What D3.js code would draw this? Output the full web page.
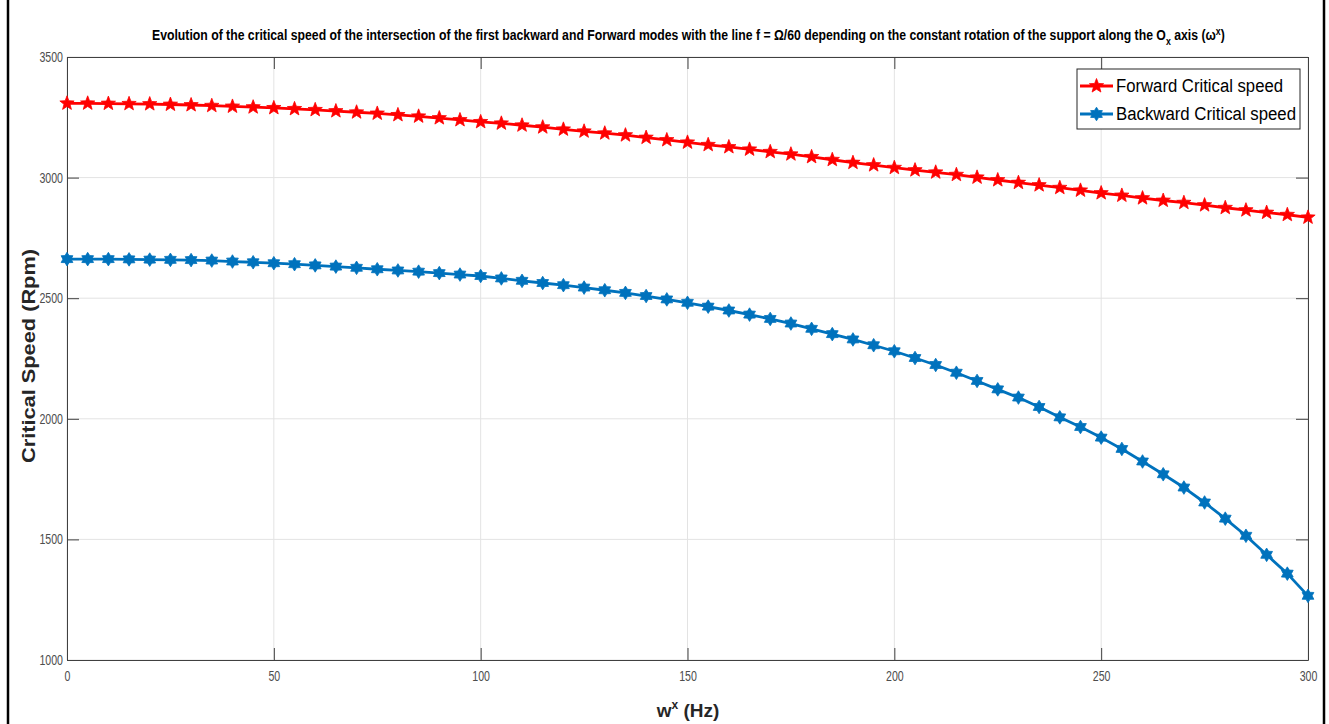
<!DOCTYPE html>
<html><head><meta charset="utf-8">
<script src="https://cdn.jsdelivr.net/npm/d3@7"></script>
<style>body{margin:0;background:#fff;} svg{display:block;}</style>
</head><body>
<svg id="c" width="1329" height="724"></svg>
<script>
const rotation = [0,5,10,15,20,25,30,35,40,45,50,55,60,65,70,75,80,85,90,95,100,105,110,115,120,125,130,135,140,145,150,155,160,165,170,175,180,185,190,195,200,205,210,215,220,225,230,235,240,245,250,255,260,265,270,275,280,285,290,295,300];
const forwardSpeed = [3308,3308,3307,3306,3305,3303,3301,3298,3295,3292,3289,3285,3281,3276,3271,3266,3260,3254,3247,3239,3231,3225,3217,3209,3200,3192,3184,3176,3166,3156,3146,3136,3127,3117,3107,3097,3086,3074,3062,3052,3041,3031,3022,3012,3001,2990,2979,2969,2958,2947,2936,2926,2915,2905,2896,2886,2875,2865,2855,2846,2835];
const backwardSpeed = [2662,2662,2662,2661,2660,2659,2658,2656,2652,2649,2645,2641,2636,2631,2626,2620,2615,2610,2604,2598,2592,2582,2572,2563,2554,2544,2533,2522,2509,2495,2481,2465,2449,2432,2414,2395,2373,2351,2329,2305,2280,2252,2223,2191,2157,2122,2088,2049,2006,1966,1922,1875,1823,1770,1715,1653,1586,1515,1436,1358,1266];
const xTicks = [0,50,100,150,200,250,300];
const yTicks = [1000,1500,2000,2500,3000,3500];
const seriesNames = ["Forward Critical speed","Backward Critical speed"];
const seriesColors = ["#ff0000","#0072bd"];

const svg = d3.select("#c");
const narrow = "'Liberation Sans Narrow','Arial Narrow','Liberation Sans',Arial,sans-serif";
const x = d3.scaleLinear().domain([0,300]).range([67,1308]);
const y = d3.scaleLinear().domain([1000,3500]).range([660,57]);

// outer frame
svg.append("line").attr("x1",8).attr("x2",8).attr("y1",0).attr("y2",724).attr("stroke","#000").attr("stroke-width",2.5);
svg.append("line").attr("x1",1324).attr("x2",1324).attr("y1",0).attr("y2",724).attr("stroke","#000").attr("stroke-width",2.5);

// grid
const g = svg.append("g");
g.selectAll(".gx").data(xTicks).join("line").attr("x1",d=>x(d)).attr("x2",d=>x(d)).attr("y1",57).attr("y2",660).attr("stroke","#e3e3e3").attr("stroke-width",1);
g.selectAll(".gy").data(yTicks).join("line").attr("y1",d=>y(d)).attr("y2",d=>y(d)).attr("x1",67).attr("x2",1308).attr("stroke","#e3e3e3").attr("stroke-width",1);

// axes
const axC = "#404040";
const fmt = d3.format("d");
const xa = svg.append("g").attr("transform","translate(0,660)").call(d3.axisBottom(x).tickValues(xTicks).tickFormat(fmt).tickSizeInner(-12).tickSizeOuter(0).tickPadding(11));
const xt = svg.append("g").attr("transform","translate(0,57)").call(d3.axisTop(x).tickValues(xTicks).tickSizeInner(-12).tickSizeOuter(0).tickFormat(""));
const ya = svg.append("g").attr("transform","translate(67,0)").call(d3.axisLeft(y).tickValues(yTicks).tickFormat(fmt).tickSizeInner(-12).tickSizeOuter(0).tickPadding(4));
const yr = svg.append("g").attr("transform","translate(1308,0)").call(d3.axisRight(y).tickValues(yTicks).tickSizeInner(-12).tickSizeOuter(0).tickFormat(""));
[xa,xt,ya,yr].forEach(a=>{
  a.selectAll("path,line").attr("stroke",axC).attr("stroke-width",1);
  a.selectAll("text").attr("fill","#4d4d4d").style("font-family",narrow).style("font-size","14px")
    .attr("textLength",function(){return this.textContent.length*5.9;}).attr("lengthAdjust","spacingAndGlyphs");
});

// series
function starPath(n, R, ratio){
  const r = R*ratio; const pts=[];
  for(let i=0;i<2*n;i++){
    const a = -Math.PI/2 + i*Math.PI/n;
    const rr = i%2===0?R:r;
    pts.push([rr*Math.cos(a), rr*Math.sin(a)]);
  }
  return "M"+pts.map(p=>p[0].toFixed(2)+","+p[1].toFixed(2)).join("L")+"Z";
}
const pent = starPath(5,7.5,0.42);
const hexa = starPath(6,6.8,0.6);
const line = d3.line().x((d,i)=>x(rotation[i])).y(d=>y(d));
const series = [
  {vals: forwardSpeed, color: seriesColors[0], mark: pent},
  {vals: backwardSpeed, color: seriesColors[1], mark: hexa}
];
series.forEach(s=>{
  svg.append("path").datum(s.vals).attr("d",line).attr("fill","none").attr("stroke",s.color).attr("stroke-width",2.8).attr("stroke-linejoin","round");
  svg.append("g").selectAll("path").data(s.vals).join("path")
    .attr("d",s.mark).attr("transform",(d,i)=>`translate(${x(rotation[i])},${y(d)})`)
    .attr("fill",s.color).attr("stroke",s.color).attr("stroke-width",0.8);
});

// legend
const lg = svg.append("g");
lg.append("rect").attr("x",1077).attr("y",69).attr("width",223).attr("height",60).attr("fill","#fff").attr("stroke","#262626").attr("stroke-width",1);
const rowsY = [86,114];
const targetW = [167,180];
seriesNames.forEach((name,i)=>{
  lg.append("line").attr("x1",1080).attr("x2",1113).attr("y1",rowsY[i]).attr("y2",rowsY[i]).attr("stroke",seriesColors[i]).attr("stroke-width",2.8);
  lg.append("path").attr("d",series[i].mark).attr("transform",`translate(1096.5,${rowsY[i]})`).attr("fill",seriesColors[i]).attr("stroke",seriesColors[i]).attr("stroke-width",0.8);
  lg.append("text").attr("x",1116).attr("y",rowsY[i]+6).text(name)
    .style("font-family",narrow).style("font-size","18px").attr("fill","#000")
    .attr("textLength",targetW[i]).attr("lengthAdjust","spacingAndGlyphs");
});

// title
const title = svg.append("text").attr("x",0).attr("y",40)
  .style("font-family",narrow).style("font-size","14px").style("font-weight","bold").attr("fill","#000");
title.append("tspan").text("Evolution of the critical speed of the intersection of the first backward and Forward modes with the line f = \u03A9/60 depending on the constant rotation of the support along the O");
title.append("tspan").attr("dy",5).style("font-size","10px").text("x");
title.append("tspan").attr("dy",-5).text(" axis (\u03C9");
title.append("tspan").attr("dy",-5).style("font-size","10px").text("x");
title.append("tspan").attr("dy",5).text(")");
const tw = title.node().getBBox().width;
const sx = 1074/tw;
title.attr("transform",`translate(152,0) scale(${sx},1)`);

// axis labels
const xl = svg.append("text").attr("x",688).attr("y",717).attr("text-anchor","middle")
  .style("font-family",narrow).style("font-size","19px").style("font-weight","bold").attr("fill","#262626");
xl.append("tspan").text("w");
xl.append("tspan").attr("dy",-8).style("font-size","12px").text("x");
xl.append("tspan").attr("dy",8).text(" (Hz)");

svg.append("text").attr("transform","translate(35,356) rotate(-90)").attr("text-anchor","middle")
  .style("font-family","'Liberation Sans',Arial,sans-serif").style("font-size","19px").style("font-weight","bold").attr("fill","#262626")
  .attr("textLength",214).attr("lengthAdjust","spacingAndGlyphs")
  .text("Critical Speed (Rpm)");
</script>
</body></html>
